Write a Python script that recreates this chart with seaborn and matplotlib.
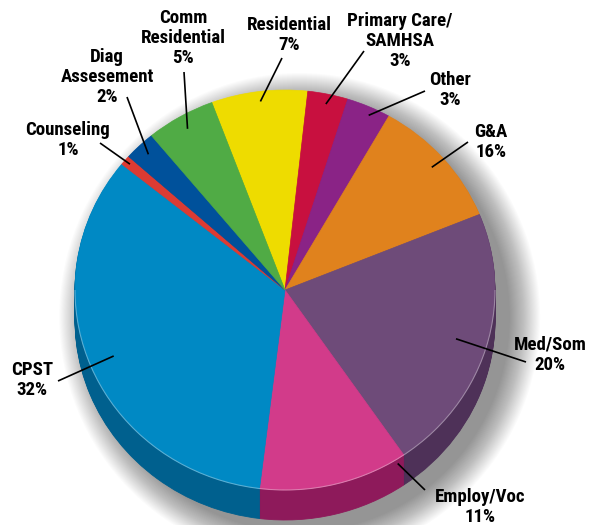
import numpy as np
import matplotlib
matplotlib.use("Agg")
import matplotlib.pyplot as plt
from matplotlib import font_manager
from matplotlib.patches import Ellipse, Arc
import seaborn as sns

services = ["Residential", "Primary Care/\nSAMHSA", "Other", "G&A", "Med/Som",
            "Employ/Voc", "CPST", "Counseling", "Diag\nAssesement", "Comm\nResidential"]
shares = [7.4, 3.1, 3.4, 10.6, 21.6, 11.5, 33.9, 0.8, 2.4, 5.3]
# percentages as printed on the chart
printed_pct = ["7%", "3%", "3%", "16%", "20%", "11%", "32%", "1%", "2%", "5%"]

top_colors = ["#EEDC00", "#C8103F", "#8A2386", "#E0821D", "#6E4B79",
              "#D23B8A", "#0089C4", "#DC3B33", "#00519B", "#50AB45"]
side_colors = ["#A89B00", "#8C0B2C", "#611860", "#9E5B14", "#4E3158",
               "#8E1A5B", "#00608E", "#9A2924", "#00396D", "#387830"]

sns.set_theme(style="white")

# pick a condensed bold face if one is installed
ttf = font_manager.fontManager.ttflist
names = {f.name for f in ttf}
label_font = dict(family=["Liberation Sans", "DejaVu Sans"], fontsize=11.5, stretch="normal")
if "Liberation Sans Narrow" in names:
    label_font = dict(family=["Liberation Sans Narrow", "DejaVu Sans"], fontsize=13,
                      stretch="condensed")
elif "Roboto Condensed" in names:
    label_font = dict(family=["Roboto Condensed", "DejaVu Sans"], fontsize=13.6,
                      stretch="condensed")
elif any(f.name == "DejaVu Sans" and "Condensed" in f.fname for f in ttf):
    label_font = dict(family=["DejaVu Sans"], fontsize=11.5, stretch="condensed")
plt.rcParams["font.family"] = label_font["family"]

W, H = 601, 525
CX, CY, RX, RY = 285, 290, 210, 200
DEPTH = 30


def to_uv(x, y):
    return (x - CX) / RX, (CY - y) / RY


def same_edge(wedges, lw):
    for w in wedges:
        w.set_edgecolor(w.get_facecolor())
        w.set_linewidth(lw)


fig = plt.figure(figsize=(W / 100, H / 100), dpi=100)
ax = fig.add_axes([0, 0, 1, 1])
ax.axis("off")

# soft drop shadow, offset to the lower right
d = DEPTH / RY
for i in range(30):
    g = i * 0.005
    e = Ellipse((0.07, -d / 2 - 0.06), 2.0 + 2 * g, 2.0 + d + 2 * g, color="black",
                alpha=0.016, lw=0)
    ax.add_patch(e)

start = 110.4
# extruded side
for k in range(DEPTH, 0, -1):
    side, _ = ax.pie(shares, colors=side_colors, startangle=start, counterclock=False,
                     center=(0, -k / RY), radius=1)
    same_edge(side, 0.6)

# top face
wedges, _ = ax.pie(shares, colors=top_colors, startangle=start, counterclock=False,
                   center=(0, 0), radius=1)
same_edge(wedges, 0.5)
ax.add_patch(Arc((0, 0), 2, 2, theta1=180, theta2=360, color="white", alpha=0.35, lw=0.8))

# label layout: text centre (px), leader outer end (px), inner radius, angle shift
layout = {
    "Residential": ((289, 35), (282, 58), 0.95, 0),
    "Primary Care/\nSAMHSA": ((400, 41), (364, 51), 0.95, 0),
    "Other": ((450, 90), (425, 91), 0.96, -1),
    "G&A": ((491, 142), (468, 142), 0.93, 0),
    "Med/Som": ((550, 355), (526, 362), 0.85, 0),
    "Employ/Voc": ((480, 507), (425, 490), 1.02, 18),
    "CPST": ((32, 380), (58, 381), 0.88, 0),
    "Counseling": ((68, 140), (100, 143), 0.97, 0),
    "Diag\nAssesement": ((107, 77), (127, 97), 0.94, 0),
    "Comm\nResidential": ((183, 38), (184, 72), 0.93, 0),
}

for w, name, pct in zip(wedges, services, printed_pct):
    (tx, ty), (ox, oy), r, shift = layout[name]
    mid = np.deg2rad((w.theta1 + w.theta2) / 2 + shift)
    iu, iv = r * np.cos(mid), r * np.sin(mid)
    ou, ov = to_uv(ox, oy)
    ax.plot([iu, ou], [iv, ov], color="black", lw=1.2, solid_capstyle="butt")
    u, v = to_uv(tx, ty)
    ax.text(u, v, f"{name}\n{pct}", ha="center", va="center",
            fontsize=label_font["fontsize"], fontstretch=label_font["stretch"],
            fontweight="bold", linespacing=1.17, color="black")

ax.set_aspect("auto")
ax.set_xlim(-CX / RX, (W - CX) / RX)
ax.set_ylim((CY - H) / RY, CY / RY)

fig.savefig("out.png", dpi=100)
